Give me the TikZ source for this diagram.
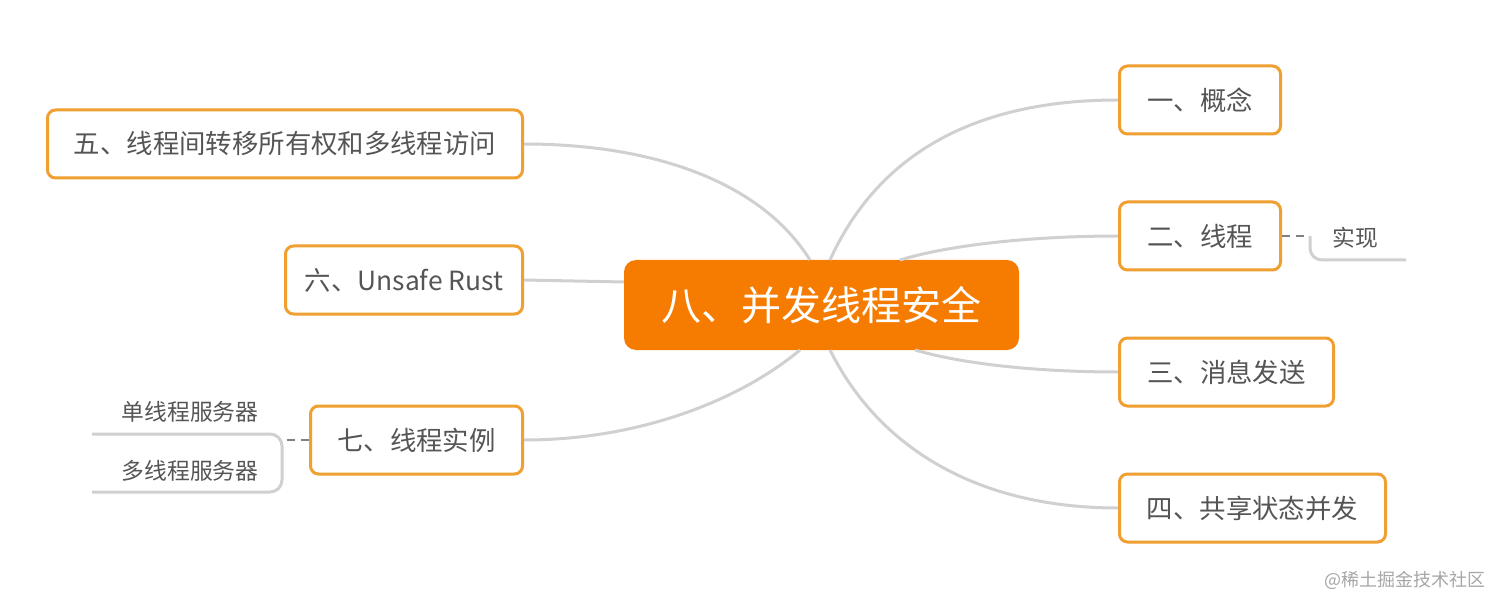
\documentclass[tikz,border=0pt]{standalone}
\usepackage{fontspec}
\setmainfont{Noto Sans CJK SC}
\definecolor{ob}{HTML}{F0A030}
\definecolor{of}{HTML}{F57C00}
\definecolor{tx}{HTML}{555555}
\definecolor{ln}{HTML}{D0D0D0}
\begin{document}
\begin{tikzpicture}[x=0.5pt,y=-0.5pt,
 topic/.style={draw=ob,line width=1.5pt,rounded corners=4pt,fill=white,text=tx,font=\fontsize{13.2}{15}\selectfont,anchor=west,inner sep=0pt,minimum height=34pt},
 sub/.style={text=tx,font=\fontsize{11.4}{13}\selectfont},
 con/.style={draw=ln,line width=1.5pt},
 dsh/.style={draw=gray,line width=1.2pt,dashed,dash pattern=on 4pt off 3pt}]
\useasboundingbox (0,0) rectangle (1512,610);
\node[fill=of,rounded corners=6pt,minimum width=197.5pt,minimum height=45pt,text=white,font=\fontsize{20}{22}\selectfont] (c) at (821.5,305) {八、并发线程安全};
\node[topic,minimum width=80.5pt] (n1) at (1118,100) {\hfill 一、概念\hfill};
\node[topic,minimum width=80.5pt] (n2) at (1118,236) {\hfill 二、线程\hfill};
\node[topic,minimum width=107pt] (n3) at (1118,372) {\hfill 三、消息发送\hfill};
\node[topic,minimum width=133pt] (n4) at (1118,508) {\hfill 四、共享状态并发\hfill};
\node[topic,minimum width=237.5pt,anchor=east] (n5) at (524,144) {\hfill 五、线程间转移所有权和多线程访问\hfill};
\node[topic,minimum width=118.5pt,anchor=east] (n6) at (524,280) {\hfill 六、Unsafe Rust\hfill};
\node[topic,minimum width=106pt,anchor=east] (n7) at (524,440) {\hfill 七、线程实例\hfill};
\draw[con] (830,260) .. controls (880,150) and (980,100) .. (n1.west);
\draw[con] (900,260) .. controls (960,242) and (1050,236) .. (n2.west);
\draw[con] (915,350) .. controls (970,366) and (1050,372) .. (n3.west);
\draw[con] (830,350) .. controls (880,450) and (980,508) .. (n4.west);
\draw[con] (810,260) .. controls (760,180) and (650,144) .. (n5.east);
\draw[con] (624,282) -- (n6.east);
\draw[con] (800,350) .. controls (740,400) and (640,440) .. (n7.east);
\node[sub] (s1) at (1355,238) {实现};
\coordinate (b1) at (1308,236);
\draw[dsh] (n2.east) -- (b1);
\draw[con,rounded corners=6pt] (1310,236) -- (1310,260) -- (1406,260);
\node[sub] (s2) at (190,412) {单线程服务器};
\node[sub] (s3) at (190,471) {多线程服务器};
\coordinate (b2) at (285,440);
\draw[dsh] (n7.west) -- (b2);
\draw[con,rounded corners=6pt] (92,434) -- (282,434) -- (282,492) -- (92,492);
\node[text=gray!70,font=\fontsize{9}{10}\selectfont] (wm) at (1405,580) {@稀土掘金技术社区};
\end{tikzpicture}
\end{document}
